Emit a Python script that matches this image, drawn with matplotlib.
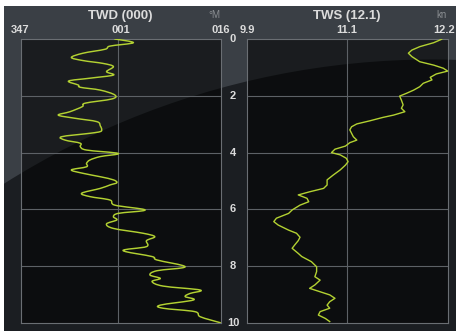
import matplotlib
matplotlib.use("Agg")
import matplotlib.pyplot as plt
from matplotlib.patches import Rectangle, Ellipse, PathPatch
from matplotlib.path import Path
import numpy as np

# ---------------- data ----------------
twd_depth = [0.0, 0.13, 0.25, 0.36, 0.50, 0.65, 0.76, 0.86, 0.97, 1.15, 1.27, 1.38, 1.48,
             1.62, 1.70, 1.80, 1.97, 2.11, 2.26, 2.38, 2.56, 2.68, 2.79, 2.91, 3.06, 3.18,
             3.26, 3.32, 3.44, 3.56, 3.67, 3.79, 3.91, 4.03, 4.14, 4.26, 4.38, 4.50, 4.61,
             4.73, 4.85, 4.96, 5.06, 5.14, 5.26, 5.43, 5.55, 5.67, 5.85, 6.02, 6.14, 6.26,
             6.37, 6.51, 6.67, 6.84, 6.96, 7.10, 7.31, 7.45, 7.66, 7.78, 8.02, 8.16, 8.31,
             8.43, 8.54, 8.70, 8.84, 8.96, 9.07, 9.19, 9.37, 9.48, 9.60, 9.78, 9.99]
# true wind direction, degrees relative to 000 (negative = west of north)
twd_deg = [0.6, 3.3, -0.1, -0.8, -4.0, -5.7, -4.0, -1.1, 0.4, -0.6, 0.4, -3.0, -6.1,
           -4.7, -4.4, -1.5, 0.6, 0.2, -3.7, -4.1, -5.9, -7.6, -5.2, -2.0, -1.5, -1.3,
           -1.5, -3.0, -7.1, -6.6, -4.4, -4.4, -3.5, 1.1, -1.5, -3.0, -3.5, -3.5, -5.7,
           -4.0, -1.5, 0.4, 0.9, -0.1, -1.5, -4.2, -3.0, -0.1, 0.6, 5.0, 1.1, 0.4,
           0.9, -0.6, 0.4, 4.7, 6.4, 5.2, 5.2, 1.8, 6.0, 6.7, 10.8, 6.7, 5.7,
           7.2, 6.0, 7.6, 13.0, 11.5, 10.8, 12.0, 7.2, 7.6, 12.2, 13.0, 15.9]

tws_depth = [0.01, 0.13, 0.27, 0.39, 0.50, 0.62, 0.80, 0.92, 1.03, 1.13, 1.23, 1.35, 1.44,
             1.56, 1.68, 1.80, 1.91, 2.01, 2.15, 2.32, 2.44, 2.56, 2.68, 2.76, 2.88, 2.99,
             3.09, 3.20, 3.32, 3.44, 3.56, 3.65, 3.77, 3.88, 4.00, 4.08, 4.20, 4.32, 4.44,
             4.61, 4.79, 4.96, 5.14, 5.26, 5.38, 5.49, 5.61, 5.73, 5.85, 6.02, 6.14, 6.31,
             6.43, 6.55, 6.73, 6.84, 6.98, 7.10, 7.25, 7.37, 7.55, 7.66, 7.84, 8.02, 8.19,
             8.37, 8.49, 8.66, 8.78, 8.90, 9.01, 9.13, 9.25, 9.37, 9.48, 9.60, 9.72, 9.84, 9.95]
tws_kn = [12.13, 12.04, 11.88, 11.79, 11.75, 11.79, 11.88, 12.04, 12.15, 12.20, 12.07, 12.00, 12.02,
          11.92, 11.88, 11.81, 11.73, 11.65, 11.67, 11.69, 11.67, 11.71, 11.58, 11.46, 11.31, 11.16,
          11.10, 11.08, 11.10, 11.12, 11.16, 11.08, 11.03, 10.91, 10.87, 10.97, 11.04, 11.06, 11.03,
          10.97, 10.89, 10.82, 10.82, 10.78, 10.62, 10.49, 10.59, 10.61, 10.51, 10.42, 10.38, 10.24,
          10.21, 10.26, 10.38, 10.47, 10.51, 10.49, 10.45, 10.42, 10.49, 10.53, 10.64, 10.70, 10.70,
          10.68, 10.74, 10.68, 10.62, 10.74, 10.85, 10.91, 10.85, 10.82, 10.85, 10.74, 10.72, 10.80, 10.85]

twd_ticks = [-13, 1, 16]
twd_tick_labels = ["347", "001", "016"]
tws_ticks = [9.9, 11.05, 12.2]
tws_tick_labels = ["9.9", "11.1", "12.2"]
depth_ticks = [0, 2, 4, 6, 8, 10]
depth_labels = ["0", "2", "4", "6", "8", "10"]

# ---------------- style ----------------
W, H = 459, 336
LINE = "#b3d132"
GRID = "#5d6166"
TXT = "#dcdcdc"
FONT = ["Liberation Sans Narrow", "Liberation Sans", "DejaVu Sans"]
plt.rcParams["font.family"] = FONT

fig = plt.figure(figsize=(W / 100, H / 100), dpi=100)
fig.patch.set_facecolor("white")

def fx(px):
    return px / W

def fy(py):
    return 1 - py / H

# outer frame
fig.patches.append(Rectangle((fx(4), fy(331)), fx(452), 325 / H, transform=fig.transFigure,
                             facecolor="#3a3f45", edgecolor="none", zorder=-3))
# darker lower part (arc)
r = 803
fig.patches.append(Ellipse((fx(433), fy(862.5)), 2 * r / W, 2 * r / H, transform=fig.transFigure,
                           facecolor="#1b1e22", edgecolor="none", zorder=-2))
# white border cover for ellipse overflow
for (x0, y0, w, h) in [(0, 331, W, 5), (0, 0, 4, H), (456, 0, 3, H)]:
    fig.patches.append(Rectangle((fx(x0), fy(y0 + h)), w / W, h / H, transform=fig.transFigure,
                                 facecolor="white", edgecolor="none", zorder=-1))

def make_axes(x0, x1):
    ax = fig.add_axes([fx(x0), fy(323), (x1 - x0) / W, 284 / H])
    ax.set_zorder(2)
    ax.set_facecolor((0, 0, 0, 0.55))
    ax.set_ylim(10, 0)
    for s in ax.spines.values():
        s.set_color("#6a6e73")
        s.set_linewidth(0.8)
    ax.set_xticks([])
    ax.set_yticks([])
    for d in depth_ticks[1:-1]:
        ax.axhline(d, color=GRID, lw=0.8, zorder=1)
    return ax

def smooth_path(xs, ys):
    # Catmull-Rom spline rendered as cubic Bezier segments through the read points
    p = np.column_stack([xs, ys])
    n = len(p)
    verts = [p[0]]
    codes = [Path.MOVETO]
    for i in range(n - 1):
        p0 = p[max(i - 1, 0)]
        p1 = p[i]
        p2 = p[i + 1]
        p3 = p[min(i + 2, n - 1)]
        c1 = p1 + (p2 - p0) / 6.0
        c2 = p2 - (p3 - p1) / 6.0
        verts += [c1, c2, p2]
        codes += [Path.CURVE4] * 3
    return Path(verts, codes)

ax1 = make_axes(21, 221)
ax1.set_xlim(twd_ticks[0], twd_ticks[-1])
ax1.axvline(twd_ticks[1], color=GRID, lw=0.8, zorder=1)
ax1.add_patch(PathPatch(smooth_path(twd_deg, twd_depth), facecolor="none", edgecolor=LINE,
                        lw=1.05, zorder=3, capstyle="round", joinstyle="round"))

ax2 = make_axes(246.7, 447.7)
ax2.set_xlim(tws_ticks[0], tws_ticks[-1])
ax2.axvline(tws_ticks[1], color=GRID, lw=0.8, zorder=1)
ax2.plot(tws_kn, tws_depth, color=LINE, lw=1.0, zorder=3, solid_joinstyle="round")

# top tick labels
label_pos = [(fx(20), "center"), (fx(120.5), "center"), (fx(229.5), "right"),
             (fx(240), "left"), (fx(347), "center"), (fx(455.5), "right")]
for (px, ha), lab in zip(label_pos, twd_tick_labels + tws_tick_labels):
    fig.text(px, fy(30), lab, ha=ha, va="center", color=TXT, fontsize=8, fontweight="bold")

# titles
fig.text(fx(120.5), fy(16.5), "TWD (000)", ha="center", va="center", color=TXT,
         fontsize=9.5, fontweight="bold")
fig.text(fx(214), fy(14.5), "°M", ha="center", va="center", color="#8a8e92", fontsize=7)
fig.text(fx(347), fy(16.5), "TWS (12.1)", ha="center", va="center", color=TXT,
         fontsize=9.5, fontweight="bold")
fig.text(fx(441.5), fy(14.5), "kn", ha="center", va="center", color="#8a8e92", fontsize=7)

# depth labels in middle strip
for d, lab in zip(depth_ticks, depth_labels):
    ax1.text(1.0 + (233 - 221) / 200, d, lab, transform=ax1.get_yaxis_transform(),
             ha="center", va="center", color=TXT, fontsize=8, fontweight="bold", clip_on=False)

fig.savefig("out.png", dpi=100, facecolor=fig.get_facecolor())
